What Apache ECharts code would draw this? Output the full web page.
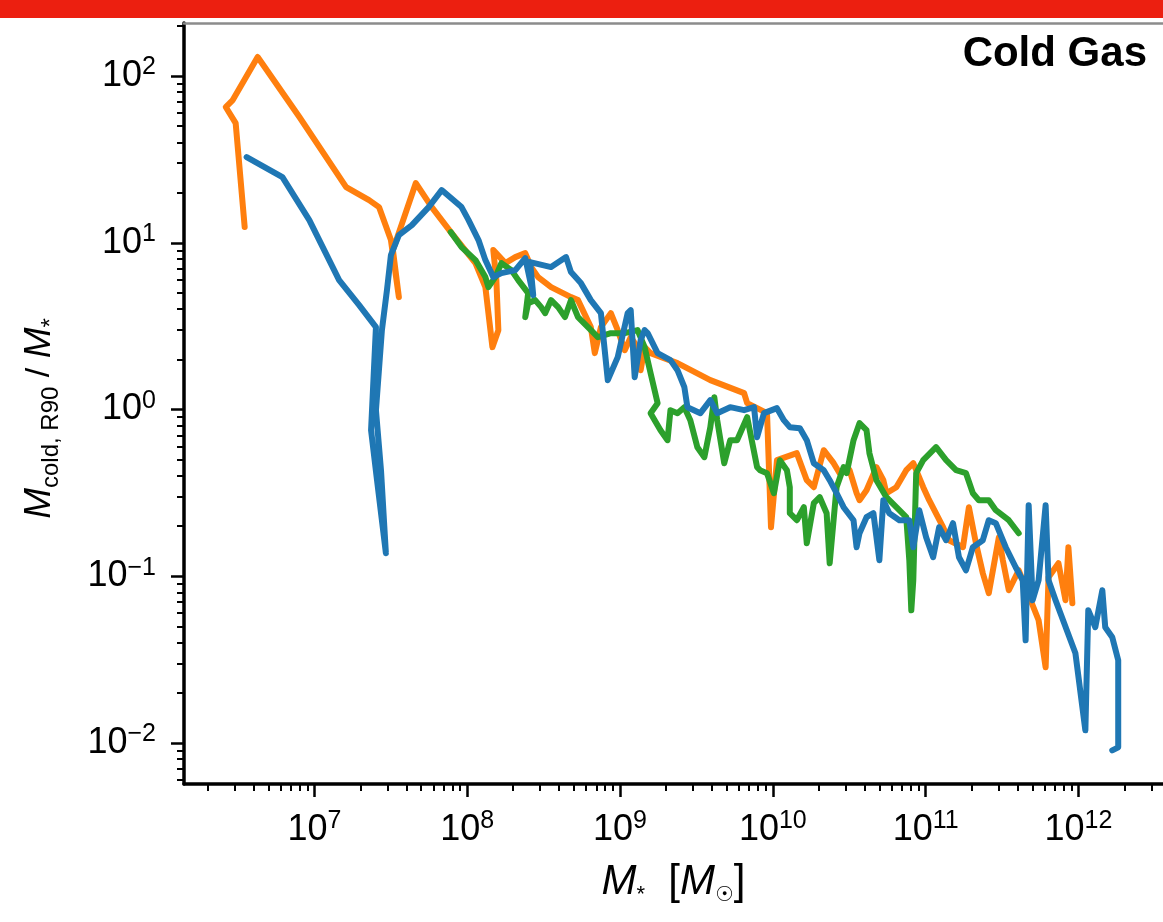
<!DOCTYPE html>
<html>
<head>
<meta charset="utf-8">
<script src="https://cdn.jsdelivr.net/npm/echarts@6/dist/echarts.min.js"></script>
<style>html,body{margin:0;padding:0;background:#fff}#c{width:1163px;height:922px}</style>
</head>
<body>
<div id="c"></div>
<script>
// Axis decades (exponents of 10) and extents, in log10 units
const xTickExponents = [7, 8, 9, 10, 11, 12];
const yTickExponents = [-2, -1, 0, 1, 2];
const xLogRange = [6.147, 12.553];
const yLogRange = [-2.246, 2.318];

// Tracks: [log10 M*, log10 (M_cold,R90 / M*)]
const orangeTrack = [[6.544,1.094],[6.485,1.718],[6.420,1.814],[6.466,1.856],[6.629,2.114],[6.902,1.754],[7.208,1.334],[7.358,1.256],[7.423,1.214],[7.501,1.016],[7.553,0.674],[7.514,0.956],[7.664,1.358],[7.768,1.214],[7.898,1.058],[8.054,0.878],[8.119,0.734],[8.165,0.374],[8.204,0.476],[8.191,0.776],[8.171,0.956],[8.250,0.878],[8.315,0.914],[8.380,0.938],[8.419,0.854],[8.464,0.794],[8.549,0.734],[8.679,0.674],[8.725,0.656],[8.809,0.494],[8.835,0.338],[8.875,0.494],[8.940,0.578],[8.985,0.476],[9.031,0.356],[9.070,0.434],[9.115,0.374],[9.135,0.236],[9.161,0.374],[9.200,0.338],[9.376,0.278],[9.591,0.176],[9.812,0.098],[9.832,0.038],[9.962,-0.022],[9.988,-0.706],[10.027,-0.304],[10.157,-0.262],[10.222,-0.424],[10.268,-0.466],[10.333,-0.244],[10.398,-0.322],[10.437,-0.382],[10.502,-0.364],[10.548,-0.502],[10.567,-0.544],[10.613,-0.484],[10.678,-0.346],[10.723,-0.424],[10.743,-0.502],[10.808,-0.466],[10.873,-0.364],[10.919,-0.322],[10.984,-0.466],[11.023,-0.544],[11.114,-0.706],[11.153,-0.784],[11.244,-0.826],[11.283,-0.586],[11.329,-0.802],[11.374,-0.982],[11.413,-1.102],[11.479,-0.766],[11.505,-0.904],[11.544,-1.084],[11.609,-0.964],[11.739,-1.264],[11.785,-1.546],[11.804,-1.006],[11.869,-0.922],[11.915,-1.144],[11.934,-0.826],[11.960,-1.162]];

const greenTrack = [[7.892,1.064],[7.963,0.974],[8.054,0.896],[8.119,0.794],[8.139,0.734],[8.184,0.794],[8.224,0.878],[8.289,0.836],[8.334,0.776],[8.399,0.698],[8.380,0.554],[8.399,0.638],[8.445,0.656],[8.484,0.614],[8.510,0.578],[8.549,0.656],[8.595,0.614],[8.640,0.554],[8.679,0.656],[8.725,0.554],[8.790,0.494],[8.855,0.434],[8.940,0.458],[9.031,0.458],[9.115,0.476],[9.161,0.374],[9.200,0.218],[9.246,0.038],[9.200,-0.022],[9.265,-0.124],[9.311,-0.184],[9.330,-0.004],[9.376,-0.022],[9.421,0.014],[9.460,-0.064],[9.506,-0.226],[9.552,-0.286],[9.591,-0.106],[9.617,0.074],[9.636,-0.064],[9.682,-0.322],[9.721,-0.184],[9.766,-0.184],[9.832,-0.046],[9.897,-0.346],[9.916,-0.364],[9.962,-0.382],[10.007,-0.502],[10.046,-0.304],[10.092,-0.364],[10.111,-0.466],[10.111,-0.622],[10.157,-0.664],[10.203,-0.586],[10.222,-0.802],[10.268,-0.562],[10.307,-0.526],[10.352,-0.622],[10.372,-0.922],[10.417,-0.466],[10.463,-0.346],[10.483,-0.382],[10.528,-0.184],[10.567,-0.082],[10.613,-0.124],[10.632,-0.262],[10.678,-0.424],[10.743,-0.526],[10.808,-0.586],[10.873,-0.646],[10.893,-0.904],[10.906,-1.204],[10.919,-1.024],[10.938,-0.382],[10.984,-0.304],[11.068,-0.226],[11.134,-0.304],[11.199,-0.364],[11.264,-0.382],[11.309,-0.502],[11.348,-0.544],[11.413,-0.544],[11.459,-0.604],[11.544,-0.664],[11.609,-0.742]];

const blueTrack = [[6.557,1.514],[6.674,1.454],[6.791,1.394],[6.967,1.136],[7.162,0.776],[7.293,0.626],[7.403,0.494],[7.371,-0.124],[7.410,-0.424],[7.468,-0.862],[7.436,-0.364],[7.403,-0.004],[7.442,0.476],[7.475,0.716],[7.501,0.926],[7.553,1.046],[7.638,1.106],[7.748,1.214],[7.833,1.316],[7.963,1.214],[8.009,1.136],[8.074,1.016],[8.119,0.896],[8.171,0.794],[8.224,0.818],[8.315,0.836],[8.380,0.908],[8.432,0.686],[8.412,0.884],[8.549,0.854],[8.647,0.914],[8.679,0.824],[8.744,0.758],[8.809,0.656],[8.875,0.578],[8.920,0.176],[8.985,0.314],[9.050,0.578],[9.070,0.596],[9.096,0.194],[9.135,0.416],[9.161,0.476],[9.181,0.458],[9.246,0.338],[9.330,0.296],[9.376,0.236],[9.421,0.134],[9.441,0.014],[9.526,-0.022],[9.591,0.056],[9.636,-0.022],[9.721,0.014],[9.812,-0.004],[9.877,0.014],[9.897,-0.166],[9.942,-0.022],[10.027,0.008],[10.072,-0.064],[10.111,-0.106],[10.177,-0.112],[10.222,-0.184],[10.268,-0.322],[10.333,-0.364],[10.372,-0.424],[10.417,-0.502],[10.463,-0.586],[10.528,-0.664],[10.548,-0.826],[10.567,-0.742],[10.613,-0.646],[10.658,-0.622],[10.697,-0.904],[10.723,-0.544],[10.762,-0.622],[10.828,-0.664],[10.893,-0.664],[10.919,-0.826],[10.958,-0.604],[11.003,-0.766],[11.049,-0.886],[11.088,-0.706],[11.134,-0.784],[11.179,-0.682],[11.218,-0.886],[11.264,-0.964],[11.309,-0.826],[11.374,-0.784],[11.413,-0.664],[11.459,-0.682],[11.524,-0.826],[11.589,-0.946],[11.635,-1.024],[11.654,-1.384],[11.674,-0.574],[11.700,-1.144],[11.739,-1.024],[11.785,-0.574],[11.804,-1.024],[11.850,-1.144],[11.980,-1.462],[12.045,-1.924],[12.064,-1.204],[12.110,-1.306],[12.156,-1.084],[12.175,-1.306],[12.221,-1.366],[12.260,-1.504],[12.260,-2.026],[12.221,-2.044]];

const seriesNames = ['orange', 'green', 'blue'];
const seriesColors = ['#ff7f0e', '#2ca02c', '#1f77b4'];
const titleText = 'Cold Gas';

const FONT = '"Liberation Sans", "DejaVu Sans", Arial, sans-serif';

// minor ticks at k*10^n (k = 2..9), expressed in log10 units
function minorTicks(range) {
  const out = [];
  for (let n = Math.floor(range[0]) - 1; n <= Math.ceil(range[1]); n++) {
    for (let k = 2; k <= 9; k++) {
      const v = n + Math.log10(k);
      if (v >= range[0] && v <= range[1]) out.push(v);
    }
  }
  return out;
}

function powLabel(v) {
  const e = Math.round(v);
  const s = e < 0 ? '\u2212' + Math.abs(e) : String(e);
  return '{b|10}{s|' + s + '}';
}
const tickRich = {
  b: { fontFamily: FONT, fontSize: 36, color: '#000', lineHeight: 42 },
  s: { fontFamily: FONT, fontSize: 25, color: '#000', lineHeight: 29, verticalAlign: 'top' }
};

const GRID = { left: 184, right: -5, top: 23, bottom: 138 };

const chart = echarts.init(document.getElementById('c'), null, { renderer: 'canvas' });

const tracks = [orangeTrack, greenTrack, blueTrack];

chart.setOption({
  animation: false,
  backgroundColor: '#ffffff',
  graphic: [
    { type: 'rect', left: 0, top: 0, shape: { width: 1163, height: 18 }, style: { fill: '#ec1f10' }, silent: true },
    { type: 'text', right: 16, top: 33, style: { text: titleText, font: 'bold 42px ' + FONT, fill: '#000' }, silent: true }
  ],
  grid: [Object.assign({}, GRID), Object.assign({}, GRID)],
  xAxis: [
    {
      type: 'value', gridIndex: 0, position: 'bottom', min: xLogRange[0], max: xLogRange[1],
      axisLine: { show: true, onZero: false, lineStyle: { color: '#000', width: 3.5 } },
      axisTick: { show: true, customValues: xTickExponents, length: 13, lineStyle: { color: '#000', width: 2.5 } },
      axisLabel: { show: true, customValues: xTickExponents, formatter: powLabel, margin: 25, rich: tickRich },
      splitLine: { show: false },
      name: '{m|M}{sub|*}{r|  [}{m|M}{sun|\u2609}{r|]}',
      nameLocation: 'middle', nameGap: 74,
      nameTextStyle: {
        rich: {
          m: { fontFamily: FONT, fontSize: 42, fontStyle: 'italic', color: '#000', lineHeight: 48 },
          sub: { fontFamily: FONT, fontSize: 22, color: '#000', lineHeight: 34, verticalAlign: 'bottom' },
          sun: { fontFamily: '"DejaVu Sans", sans-serif', fontSize: 21, color: '#000', lineHeight: 24, verticalAlign: 'bottom' },
          r: { fontFamily: FONT, fontSize: 42, color: '#000', lineHeight: 48 }
        }
      }
    },
    {
      type: 'value', gridIndex: 0, position: 'top', min: xLogRange[0], max: xLogRange[1],
      axisLine: { show: true, onZero: false, lineStyle: { color: '#8c8c8c', width: 2.5 } },
      axisTick: { show: false }, axisLabel: { show: false }, splitLine: { show: false }
    },
    {
      type: 'value', gridIndex: 1, position: 'bottom', min: xLogRange[0], max: xLogRange[1],
      axisLine: { show: false, onZero: false },
      axisTick: { show: true, customValues: minorTicks(xLogRange), length: 7, lineStyle: { color: '#000', width: 2 } },
      axisLabel: { show: false }, splitLine: { show: false }
    }
  ],
  yAxis: [
    {
      type: 'value', gridIndex: 0, position: 'left', min: yLogRange[0], max: yLogRange[1],
      axisLine: { show: true, onZero: false, lineStyle: { color: '#000', width: 3.5 } },
      axisTick: { show: true, customValues: yTickExponents, length: 13, lineStyle: { color: '#000', width: 2.5 } },
      axisLabel: { show: true, customValues: yTickExponents, formatter: powLabel, margin: 28, rich: tickRich },
      splitLine: { show: false },
      name: '{m|M}{sub|cold, R90}{r| / }{m|M}{sub|*}',
      nameLocation: 'middle', nameRotate: 90, nameGap: 121,
      nameTextStyle: {
        padding: [0, 30, 0, 0],
        rich: {
          m: { fontFamily: FONT, fontSize: 37, fontStyle: 'italic', color: '#000', lineHeight: 46 },
          sub: { fontFamily: FONT, fontSize: 24, color: '#000', lineHeight: 34, verticalAlign: 'bottom' },
          r: { fontFamily: FONT, fontSize: 34, color: '#000', lineHeight: 46 }
        }
      }
    },
    {
      type: 'value', gridIndex: 1, position: 'left', min: yLogRange[0], max: yLogRange[1],
      axisLine: { show: false, onZero: false },
      axisTick: { show: true, customValues: minorTicks(yLogRange), length: 7, lineStyle: { color: '#000', width: 2 } },
      axisLabel: { show: false }, splitLine: { show: false }
    }
  ],
  series: tracks.map((t, i) => ({
    name: seriesNames[i],
    type: 'line',
    xAxisIndex: 0, yAxisIndex: 0,
    data: t,
    showSymbol: false, symbol: 'none', silent: true,
    lineStyle: { color: seriesColors[i], width: 6, cap: 'round', join: 'round' },
    itemStyle: { color: seriesColors[i] },
    emphasis: { disabled: true },
    z: 2 + i
  }))
});
</script>
</body>
</html>
